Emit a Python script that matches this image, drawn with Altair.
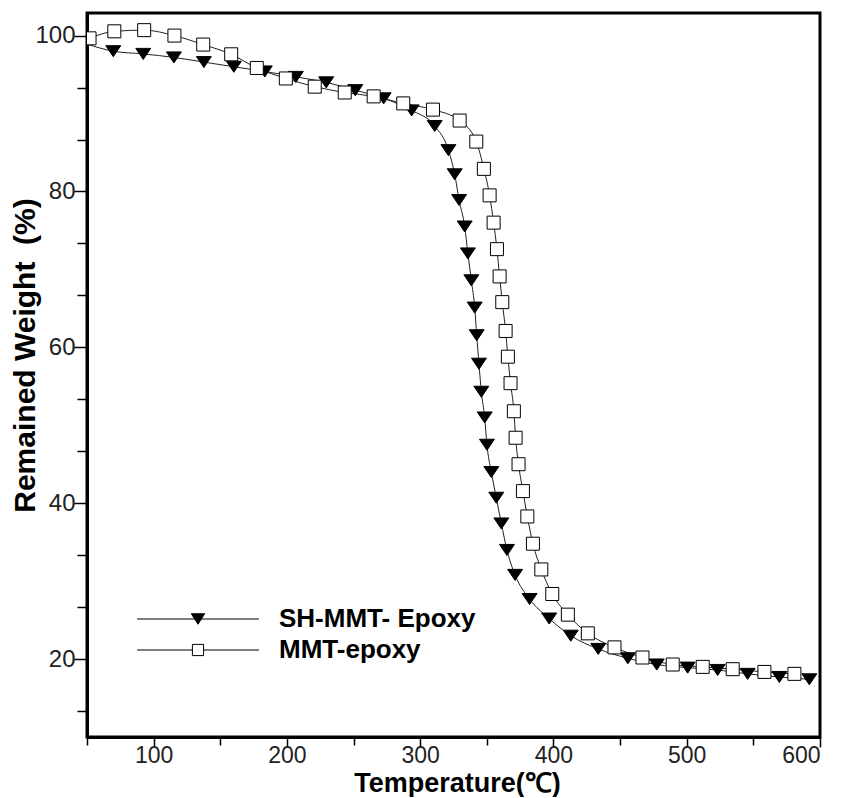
import altair as alt
import pandas as pd

SERIES = ["SH-MMT- Epoxy", "MMT-epoxy"]

SH_T = [50, 69.7, 92.2, 115.2, 137.7, 160.2, 183.4, 206.7, 229.5, 251.3,
        272.6, 293.6, 310.9, 321.2, 325.9, 329.2, 333.4, 335.8, 338.4, 340.9,
        342.4, 344.1, 345.9, 348.4, 350.1, 353.4, 357.1, 360.9, 365.1, 371.2,
        382.1, 396.8, 413.0, 433.6, 455.8, 477.5, 500.7, 523.2, 545.7, 569.5, 592.0]
SH_W = [98.9, 98.0, 97.65, 97.2, 96.6, 96.0, 95.4, 94.7, 94.0, 93.0,
        91.95, 90.4, 88.4, 85.3, 82.2, 78.9, 75.5, 72.05, 68.6, 65.1,
        61.55, 57.9, 54.3, 51.0, 47.5, 44.0, 40.7, 37.4, 34.0, 30.8,
        27.7, 25.2, 23.0, 21.3, 20.1, 19.3, 18.9, 18.6, 18.1, 17.7, 17.4]

MMT_T = [51.9, 70.5, 92.9, 115.6, 137.2, 158.2, 177.4, 199.2, 220.9, 243.4,
         265.1, 287.3, 309.6, 329.6, 342.1, 347.8, 352.1, 355.1, 357.6, 359.6,
         361.6, 364.1, 365.8, 367.8, 370.3, 371.6, 373.8, 377.1, 380.4, 384.6,
         390.9, 399.1, 410.8, 425.8, 445.8, 466.8, 489.5, 512.0, 534.5, 558.3, 580.8]
MMT_W = [99.65, 100.55, 100.7, 100.0, 98.85, 97.6, 95.85, 94.5, 93.45, 92.7,
         92.2, 91.3, 90.5, 89.1, 86.4, 82.9, 79.5, 76.0, 72.6, 69.1,
         65.8, 62.1, 58.8, 55.4, 51.8, 48.4, 45.0, 41.55, 38.3, 34.8,
         31.5, 28.35, 25.7, 23.3, 21.5, 20.2, 19.3, 19.0, 18.7, 18.35, 18.1]

X_TICKS = [50, 100, 150, 200, 250, 300, 350, 400, 450, 500, 550, 600]
Y_TICKS = [round(20 / 3 * k, 4) for k in range(2, 16)]

rows = [{"T": t, "W": w, "series": SERIES[0]} for t, w in zip(SH_T, SH_W)]
rows += [{"T": t, "W": w, "series": SERIES[1]} for t, w in zip(MMT_T, MMT_W)]
df = pd.DataFrame(rows)

FONT = "Liberation Sans"
TRI = "M-1.15,-0.85L1.15,-0.85L0,0.85Z"
LEG_TRI = "M-8.7,0H8.7M-0.95,-0.75L0.95,-0.75L0,0.75Z"
LEG_SQ = "M-8.7,0H-0.8M0.8,0H8.7M-0.8,-0.8H0.8V0.8H-0.8Z"

x_enc = alt.X(
    "T:Q",
    scale=alt.Scale(domain=[50, 600], nice=False, zero=False),
    axis=alt.Axis(
        values=X_TICKS,
        labelExpr="datum.value % 100 == 0 ? datum.label : ''",
        format="d",
        tickSize={"condition": {"test": "datum.value % 100 == 0", "value": 10}, "value": 8},
        labelPadding=-3,
        labelFontSize=23,
        titleX=370,
        titleY=54,
        titleBaseline="alphabetic",
        titleAlign="center",
        titleFontSize=27,
    ),
    title="Temperature(℃)",
)
y_enc = alt.Y(
    "W:Q",
    scale=alt.Scale(domain=[10, 102.9], nice=False, zero=False),
    axis=alt.Axis(
        values=Y_TICKS,
        labelExpr="abs(datum.value % 20) < 0.01 ? format(datum.value, 'd') : ''",
        tickSize={"condition": {"test": "abs(datum.value % 20) < 0.01", "value": 13}, "value": 10},
        labelPadding=-1,
        titleX=-53,
        titleY=342,
        titleBaseline="alphabetic",
        titleAlign="center",
        titleFontSize=30,
    ),
    title="Remained Weight\u00a0 (%)",
)

fill_scale = alt.Scale(domain=SERIES, range=["black", "white"])

lines = alt.Chart(df).mark_line(
    interpolate="monotone", color="#222", strokeWidth=1, clip=True
).encode(x=x_enc, y=y_enc, detail="series:N", order="T:Q")

points = alt.Chart(df).transform_filter("datum.T >= 51").mark_point(
    filled=True, stroke="black", strokeWidth=1, opacity=1, size=169, clip=True
).encode(
    x=x_enc,
    y=y_enc,
    shape=alt.Shape("series:N", scale=alt.Scale(domain=SERIES, range=[TRI, "square"]), legend=None),
    fill=alt.Fill("series:N", scale=fill_scale, legend=None),
)


def leg():
    return alt.Legend(
        title=None,
        orient="none",
        legendX=98,
        legendY=593,
        padding=0,
        symbolSize=196,
        symbolStrokeWidth=1,
        symbolStrokeColor="black",
        symbolOpacity=1,
        labelFont=FONT,
        labelFontSize=26,
        labelFontWeight="bold",
        labelColor="black",
        labelOffset=68,
        labelLimit=400,
        rowPadding=5,
    )


legend_layer = alt.Chart(df).transform_filter("false").mark_point(
    filled=True, strokeWidth=1, opacity=1, size=196
).encode(
    x=x_enc,
    y=y_enc,
    shape=alt.Shape("series:N", scale=alt.Scale(domain=SERIES, range=[LEG_TRI, LEG_SQ]), legend=leg()),
    fill=alt.Fill("series:N", scale=fill_scale, legend=leg()),
    stroke=alt.Stroke("series:N", scale=alt.Scale(domain=SERIES, range=["black", "black"]), legend=leg()),
)

chart = (
    alt.layer(lines, points, legend_layer)
    .resolve_scale(shape="independent", fill="independent", stroke="independent")
    .properties(
        width=733,
        height=724,
        autosize=alt.AutoSizeParams(type="none"),
        padding={"left": 79, "top": 5, "right": 10, "bottom": 60},
        background="white",
    )
    .configure_view(stroke="black", strokeWidth=3)
    .configure_axis(
        domainColor="black",
        domainWidth=3,
        tickColor="black",
        tickWidth=1.5,
        labelFont=FONT,
        labelFontSize=24,
        labelColor="#222",
        titleFont=FONT,
        titleFontWeight="bold",
        titleColor="black",
        grid=False,
    )
)

chart.save("out.html", embed_options={"renderer": "svg", "actions": False})
